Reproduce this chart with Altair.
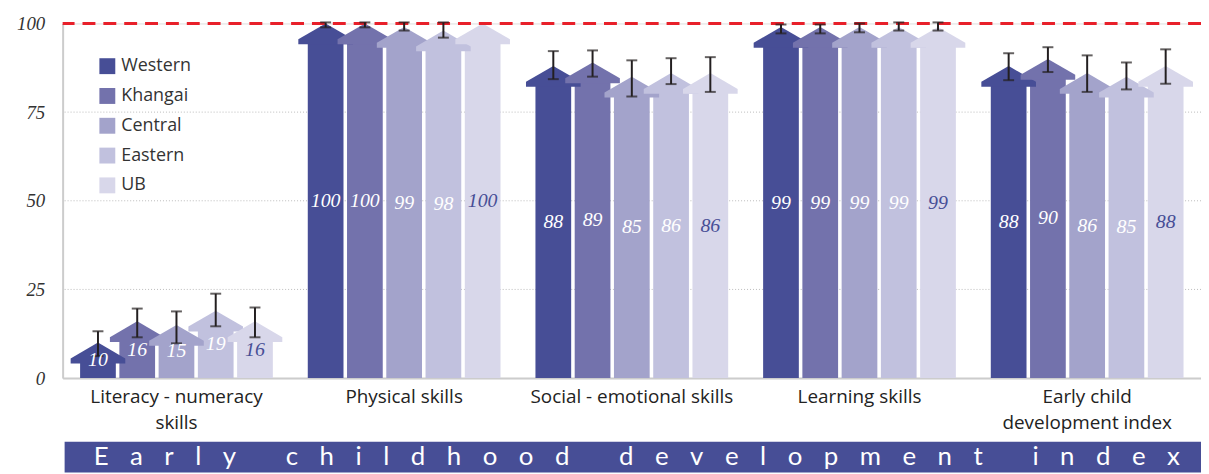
import altair as alt
import pandas as pd

categories = ["Literacy - numeracy skills", "Physical skills", "Social - emotional skills",
              "Learning skills", "Early child development index"]
regions = ["Western", "Khangai", "Central", "Eastern", "UB"]
colors = ["#474e96", "#7372ac", "#a3a3cb", "#c1c1de", "#d8d7ea"]
label_colors = ["#ffffff", "#ffffff", "#ffffff", "#ffffff", "#474e96"]

values = {
    "Western": [10, 100, 88, 99, 88],
    "Khangai": [16, 100, 89, 99, 90],
    "Central": [15, 99, 85, 99, 86],
    "Eastern": [19, 98, 86, 99, 85],
    "UB":      [16, 100, 86, 99, 88],
}
err_lo = {
    "Western": [6.2, 98.9, 84.3, 97.2, 84.0],
    "Khangai": [11.5, 98.9, 85.0, 97.2, 86.3],
    "Central": [9.8, 98.0, 79.4, 97.5, 80.7],
    "Eastern": [14.6, 96.0, 82.9, 98.0, 81.4],
    "UB":      [11.5, None, 80.7, 98.0, 83.0],
}
err_hi = {
    "Western": [13.2, 100.3, 92.2, 99.7, 91.6],
    "Khangai": [19.6, 100.3, 92.4, 99.7, 93.3],
    "Central": [18.8, 100.3, 89.6, 100.0, 91.0],
    "Eastern": [23.8, 100.3, 90.2, 100.3, 89.0],
    "UB":      [19.9, None, 90.5, 100.3, 92.7],
}
y_ticks = [0, 25, 50, 75, 100]
grid_values = [25, 50, 75]
ref_value = [100]
banner_title = "Early childhood development index"

rows = []
for ri, r in enumerate(regions):
    for ci, c in enumerate(categories):
        rows.append(dict(category=c, region=r, value=values[r][ci],
                         lo=err_lo[r][ci], hi=err_hi[r][ci], tcolor=label_colors[ri]))
df = pd.DataFrame(rows)

W, H = 1146, 357
ysc = alt.Scale(domain=[0, 100], nice=False, zero=True)

label_expr = ("datum.value == 'Literacy - numeracy skills' ? ['Literacy - numeracy', 'skills'] : "
              "datum.value == 'Early child development index' ? ['Early child', 'development index'] : datum.value")

x_enc = alt.X("category:N", sort=categories,
              scale=alt.Scale(domain=categories, paddingInner=0, paddingOuter=0),
              axis=alt.Axis(title=None, ticks=False, domainColor="#cccccc", domainWidth=2,
                            labelFont="Open Sans", labelFontSize=19, labelColor="#222222",
                            labelPadding=10, labelLineHeight=26, labelAngle=0, labelLimit=400,
                            labelExpr=label_expr))
xo = alt.XOffset("region:N", sort=regions,
                 scale=alt.Scale(domain=regions, paddingInner=0.09, paddingOuter=0.445))

base = alt.Chart(df)

grid = alt.Chart(pd.DataFrame({"g": grid_values})).mark_rule(
    color="#bbbbbb", strokeWidth=1, strokeDash=[1, 2]
).encode(y=alt.Y("g:Q", scale=ysc, title=None))

shafts = base.transform_calculate(top="datum.value - 4").mark_bar().encode(
    x=x_enc, xOffset=xo,
    y=alt.Y("top:Q", scale=ysc,
            axis=alt.Axis(title=None, values=y_ticks, grid=False, ticks=False,
                          domainColor="#cccccc", domainWidth=2,
                          labelFont="Liberation Serif", labelFontStyle="italic",
                          labelFontSize=19, labelColor="#333333", labelPadding=18)),
    color=alt.Color("region:N", sort=regions,
                    scale=alt.Scale(domain=regions, range=colors),
                    legend=alt.Legend(title=None, orient="none", legendX=36, legendY=34,
                                      symbolType="square", symbolSize=256, symbolStrokeWidth=0,
                                      labelFont="Open Sans", labelFontSize=18, labelColor="#333333",
                                      rowPadding=12, labelOffset=5, padding=0)),
)

head_path = "M0,0L1,0.58L1,0.76L-1,0.76L-1,0.58Z"
heads = base.mark_point(shape=head_path, size=3025, filled=True, opacity=1, strokeWidth=0).encode(
    x=x_enc, xOffset=xo,
    y=alt.Y("value:Q", scale=ysc, title=None),
    color=alt.Color("region:N", sort=regions, scale=alt.Scale(domain=regions, range=colors)),
)

ref = alt.Chart(pd.DataFrame({"r": ref_value})).mark_rule(
    color="#e8202a", strokeWidth=3, strokeDash=[13, 8]
).encode(y=alt.Y("r:Q", scale=ysc, title=None))

err = base.mark_rule(color="#231f20", strokeWidth=2).encode(
    x=x_enc, xOffset=xo, y=alt.Y("lo:Q", scale=ysc, title=None), y2="hi:Q")
cap_lo = base.mark_tick(color="#231f20", thickness=2, size=11, orient="horizontal").encode(
    x=x_enc, xOffset=xo, y=alt.Y("lo:Q", scale=ysc, title=None))
cap_hi = base.mark_tick(color="#231f20", thickness=2, size=11, orient="horizontal").encode(
    x=x_enc, xOffset=xo, y=alt.Y("hi:Q", scale=ysc, title=None))

labels = base.transform_calculate(half="datum.value / 2").mark_text(
    font="Liberation Serif", fontStyle="italic", fontSize=20, baseline="middle", align="center"
).encode(
    x=x_enc, xOffset=xo,
    y=alt.Y("half:Q", scale=ysc, title=None),
    text="value:Q",
    fill=alt.Fill("tcolor:N", scale=None),
)

sp = "\u2002\u2004"
spaced = (sp + " " + sp).join(sp.join(list(w)) for w in banner_title.split(" "))
bdf = pd.DataFrame({"t": [spaced]})
banner = alt.Chart(bdf).mark_rect(color="#474e96").encode(
    x=alt.value(2), x2=alt.value(W), y=alt.value(H + 64), y2=alt.value(H + 95))
banner_text = alt.Chart(bdf).mark_text(
    font="Lato", fontSize=26, color="white", align="center", baseline="middle"
).encode(x=alt.value(578), y=alt.value(H + 80), text="t:N")

chart = alt.layer(grid, shafts, heads, ref, err, cap_lo, cap_hi, labels, banner, banner_text).properties(
    width=W, height=H,
    padding={"left": 55, "top": 14, "right": 0, "bottom": 95},
    autosize=alt.AutoSizeParams(type="none"),
).configure_view(stroke=None).configure(background="white")

chart.save("out.html", embed_options={"renderer": "svg", "actions": False})
